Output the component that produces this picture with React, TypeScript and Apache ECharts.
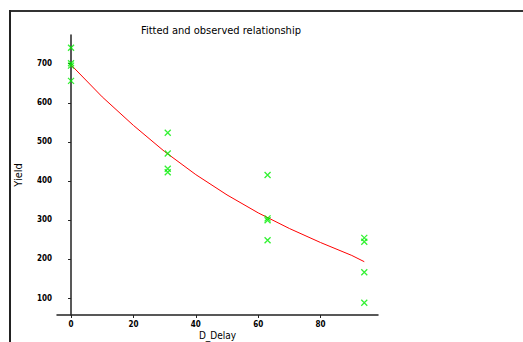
import React, { useEffect, useRef } from "react";
import * as echarts from "echarts";

const obsDelay = [0, 0, 0, 0, 31, 31, 31, 31, 63, 63, 63, 63, 94, 94, 94, 94];
const obsYield = [741, 701, 695, 656, 523, 470, 431, 422, 415, 304, 299, 248, 254, 244, 166, 88];
const fitDelay = [0, 10, 20, 30, 40, 50, 60, 70, 80, 90, 94];
const fitYield = [697, 615, 542, 475, 416, 364, 318, 278, 242, 209, 193];
const xTicks = [0, 20, 40, 60, 80];
const yTicks = [100, 200, 300, 400, 500, 600, 700];

const FONT = "'Liberation Sans Narrow', 'DejaVu Sans Condensed', 'Liberation Sans', sans-serif";

export default function App() {
  const ref = useRef<HTMLDivElement>(null);
  useEffect(() => {
    const chart = echarts.init(ref.current!, null, { renderer: "svg" });
    const axisLine = { lineStyle: { color: "#222", width: 1.5 } };
    chart.setOption({
      animation: false,
      backgroundColor: "#fff",
      title: {
        text: "Fitted and observed relationship",
        left: 216,
        top: 20,
        textAlign: "center",
        textStyle: { fontFamily: FONT, fontSize: 11, fontWeight: "normal", color: "#000" },
      },
      grid: { left: 57, top: 35, right: 145, bottom: 27, containLabel: false, outerBoundsMode: "none" },
      xAxis: {
        type: "value",
        min: -4.5,
        max: 98.4,
        name: "D_Delay",
        nameLocation: "middle",
        nameGap: 15,
        nameMoveOverlap: false,
        nameTextStyle: { fontFamily: FONT, fontSize: 10, color: "#000", lineHeight: 11 },
        axisLine: { show: true, ...axisLine },
        axisTick: { show: true, length: 3, inside: false, customValues: xTicks, lineStyle: { color: "#222" } },
        axisLabel: { customValues: xTicks, fontFamily: FONT, fontSize: 8, fontWeight: "bold", color: "#000", margin: 5 },
        splitLine: { show: false },
      },
      yAxis: {
        type: "value",
        min: 56.5,
        max: 773.5,
        name: "Yield",
        nameLocation: "middle",
        nameGap: 33,
        nameRotate: 90,
        nameMoveOverlap: false,
        nameTextStyle: { fontFamily: FONT, fontSize: 11, color: "#000" },
        axisLine: { show: true, ...axisLine },
        axisTick: { show: true, length: 3, inside: false, customValues: yTicks, lineStyle: { color: "#222" } },
        axisLabel: { customValues: yTicks, fontFamily: FONT, fontSize: 8, fontWeight: "bold", color: "#000", margin: 5 },
        splitLine: { show: false },
      },
      graphic: [
        { type: "line", shape: { x1: 10, y1: 11, x2: 523, y2: 11 }, style: { stroke: "#333", lineWidth: 2 } },
        { type: "line", shape: { x1: 10, y1: 10, x2: 10, y2: 342 }, style: { stroke: "#222", lineWidth: 2 } },
      ],
      series: [
        {
          type: "line",
          data: fitDelay.map((d, i) => [d, fitYield[i]]),
          smooth: false,
          showSymbol: false,
          lineStyle: { color: "#ff0000", width: 1 },
          z: 2,
        },
        {
          type: "scatter",
          data: obsDelay.map((d, i) => [d, obsYield[i]]),
          symbol: "path://M0,0L10,10M10,0L0,10",
          symbolSize: 6,
          itemStyle: { color: "transparent", borderColor: "#00ee00", borderWidth: 1.3 },
          z: 3,
        },
      ],
    });
    return () => chart.dispose();
  }, []);
  return (
    <div
      ref={ref}
      style={{ position: "absolute", left: 0, top: 0, width: 523, height: 342, background: "#fff" }}
    />
  );
}
